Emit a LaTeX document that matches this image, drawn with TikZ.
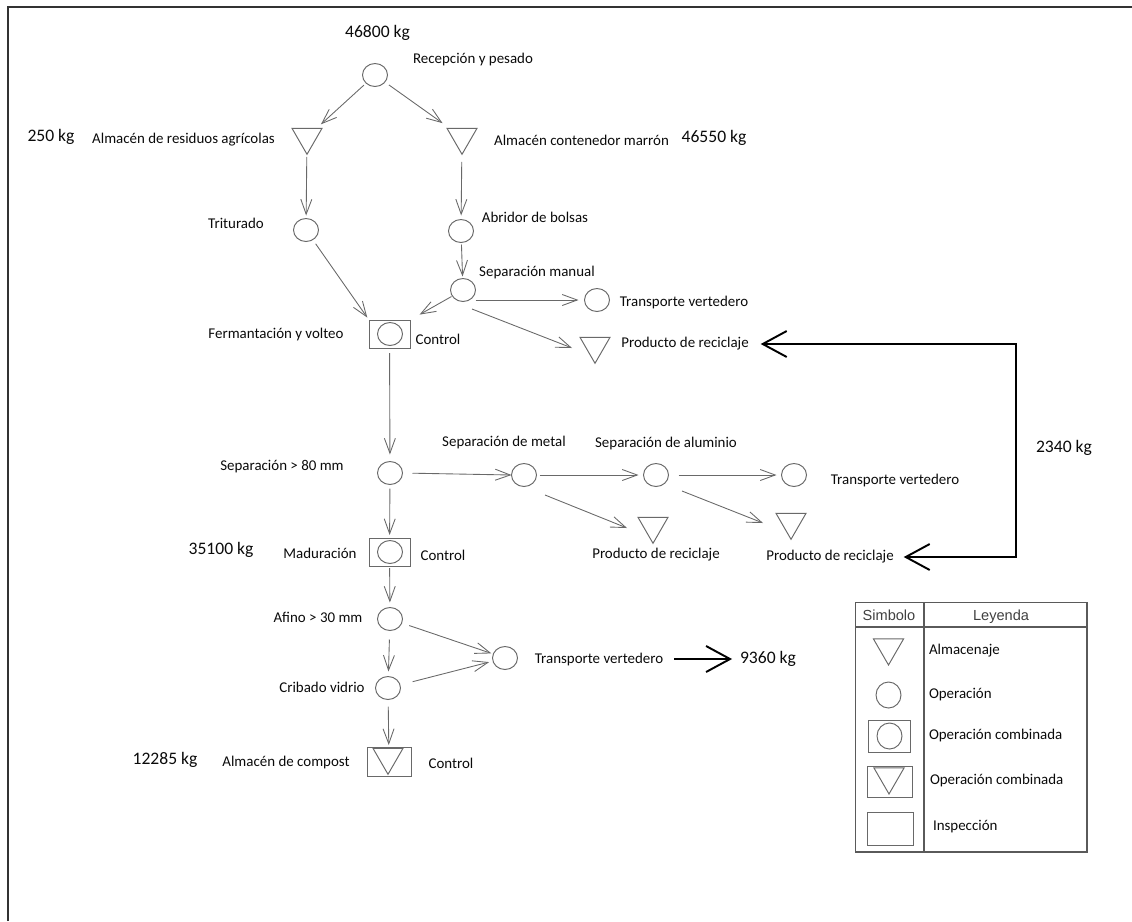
\documentclass[tikz,border=0pt]{standalone}
\usepackage{fontspec}
\setmainfont{Carlito}
\newfontfamily\hdrfont{Liberation Sans}
\usetikzlibrary{arrows.meta,shapes.geometric,calc}
\definecolor{ln}{RGB}{105,105,105}
\definecolor{txt}{RGB}{10,10,10}
\definecolor{lg}{RGB}{90,90,90}
\begin{document}
\begin{tikzpicture}[x=0.02cm,y=-0.02cm,
  every node/.style={inner sep=0pt, outer sep=0pt},
  lbl/.style={font=\fontsize{8.5}{10}\selectfont, text=txt},
  kg/.style={font=\fontsize{10}{12}\selectfont, text=txt},
  hdr/.style={font=\hdrfont\fontsize{8.3}{10}\selectfont, text=black!75},
  op/.style={ellipse, draw=ln, line width=0.55pt, minimum width=0.5cm, minimum height=0.46cm},
  store/.style={regular polygon, regular polygon sides=3, shape border rotate=180, draw=ln, line width=0.55pt, minimum size=0.692cm},
  combo/.style={rectangle, draw=ln, line width=0.55pt, minimum width=0.82cm, minimum height=0.56cm},
  flow/.style={draw=ln, line width=0.5pt, -{Straight Barb[length=0.3cm,width=0.22cm]}},
  big/.style={draw=black, line width=1.1pt},
  bigboth/.style={big, {Straight Barb[length=0.48cm,width=0.52cm]}-{Straight Barb[length=0.48cm,width=0.52cm]}},
  bigone/.style={big, -{Straight Barb[length=0.48cm,width=0.52cm]}},
]
\useasboundingbox (0,0) rectangle (1132,921);
% frame
\coordinate (fbl) at (8,921);
\coordinate (ftl) at (8,7);
\coordinate (ftr) at (1132,7);
\draw[black!80, line width=0.6pt] (fbl) -- (ftl) -- (ftr);

% operations
\node[op] (rec) at (375,75) {};
\node[store] (t1) at (307,137) {};
\node[store] (t2) at (462,137) {};
\node[op] (trit) at (306,230) {};
\node[op] (abr) at (461,231) {};
\node[op] (sman) at (463,290) {};
\node[op] (tv1) at (597,300) {};
\node[store] (prod0) at (595,346) {};
\node[combo] (ferm) at (389.5,334) {};
\node[op] (fermc) at (390,334) {};
\node[op] (sep80) at (390,473) {};
\node[op] (met) at (524,475) {};
\node[op] (alu) at (656,475) {};
\node[op] (tv2) at (794,475) {};
\node[store] (prod1) at (653,526) {};
\node[store] (prod2) at (791,522) {};
\node[combo] (mad) at (389.5,552) {};
\node[op] (madc) at (390,552) {};
\node[op] (afi) at (390,619) {};
\node[op] (cri) at (388,688) {};
\node[op] (tv3) at (505,658) {};
\node[combo, minimum width=0.88cm, minimum height=0.58cm] (comp) at (389,761.5) {};
\node[store] (compt) at (388,757) {};

% labels
\node[kg] (kg1) at (377.5,33) {46800 kg};
\node[lbl] (lrec) at (473,60) {Recepción y pesado};
\node[kg] (kg2) at (51,137) {250 kg};
\node[lbl] (lt1) at (183.5,140) {Almacén de residuos agrícolas};
\node[lbl] (lt2) at (581.5,140) {Almacén contenedor marrón};
\node[kg] (kg3) at (714,138) {46550 kg};
\node[lbl] (ltrit) at (236,223) {Triturado};
\node[lbl] (labr) at (535,217) {Abridor de bolsas};
\node[lbl] (lsman) at (537,273) {Separación manual};
\node[lbl] (ltv1) at (684,303) {Transporte vertedero};
\node[lbl] (lprod0) at (685,344) {Producto de reciclaje};
\node[lbl] (lferm) at (276,335) {Fermantación y volteo};
\node[lbl] (cferm) at (438,339) {Control};
\node[lbl] (lsep80) at (282,467) {Separación > 80 mm};
\node[lbl] (lmet) at (504,443) {Separación de metal};
\node[lbl] (lalu) at (666,444) {Separación de aluminio};
\node[lbl] (ltv2) at (895,481) {Transporte vertedero};
\node[lbl] (lprod1) at (656,555) {Producto de reciclaje};
\node[lbl] (lprod2) at (830,557) {Producto de reciclaje};
\node[kg] (kg4) at (1064,448) {2340 kg};
\node[kg] (kg5) at (221,550) {35100 kg};
\node[lbl] (lmad) at (320,553) {Maduración};
\node[lbl] (cmad) at (443,555) {Control};
\node[lbl] (lafi) at (318,617) {Afino > 30 mm};
\node[lbl] (lcri) at (322,687) {Cribado vidrio};
\node[lbl] (ltv3) at (599,659) {Transporte vertedero};
\node[kg] (kg6) at (768,659) {9360 kg};
\node[kg] (kg7) at (165,760) {12285 kg};
\node[lbl] (lcomp) at (286,762) {Almacén de compost};
\node[lbl] (ccomp) at (451,763) {Control};

% flows
\draw[flow, shorten <=0.06cm, shorten >=0.12cm] (rec) -- (t1);
\draw[flow, shorten <=0.1cm, shorten >=0.18cm] (rec) -- (t2);
\draw[flow, shorten <=0.06cm, shorten >=0.06cm] (t1) -- (trit);
\draw[flow, shorten <=0.16cm, shorten >=0.08cm] (t2) -- (abr);
\draw[flow, shorten <=0.1cm, shorten >=0.06cm] (trit) -- (ferm.north west);
\draw[flow, shorten <=0.04cm, shorten >=0.04cm] (abr) -- (sman);
\draw[flow, shorten <=0.02cm, shorten >=0.22cm] (sman) -- (ferm.north east);
\draw[flow, shorten >=0.12cm] (sman.east |- tv1.west) -- (tv1.west);
\draw[flow] ($(sman)+(9,19)$) -- ($(prod0.west)+(-13,2)$);
\draw[flow, shorten <=0.1cm, shorten >=0.14cm] (ferm) -- (sep80);
\draw[flow, shorten <=0.2cm] (sep80.east) -- (met.west);
\draw[flow, shorten <=0.06cm, shorten >=0.1cm] (met) -- (alu);
\draw[flow] ($(met)+(21,20)$) -- ($(prod1)+(-26,2)$);
\draw[flow, shorten <=0.2cm, shorten >=0.1cm] (alu) -- (tv2);
\draw[flow] ($(alu)+(26,16)$) -- ($(prod2)+(-28,1)$);
\draw[flow, shorten <=0.08cm, shorten >=0.06cm] (sep80) -- (mad);
\draw[flow, shorten <=0.04cm, shorten >=0.1cm] (mad) -- (afi);
\draw[flow, shorten <=0.18cm, shorten >=0.1cm] (afi) -- (cri);
\draw[flow, shorten <=0.16cm, shorten >=0.04cm] (afi) -- (tv3);
\draw[flow, shorten <=0.26cm, shorten >=0.08cm] (cri) -- (tv3);
\draw[flow, shorten <=0.14cm, shorten >=0.04cm] (cri) -- (comp);

% thick arrows
\coordinate (loopc) at (1016,450);
\draw[bigboth, shorten <=0.24cm, shorten >=0.2cm] (lprod0.east) -| (loopc) |- (lprod2.east);
\draw[bigone, shorten <=0.22cm, shorten >=0.16cm] (ltv3.east) -- (kg6.west);

% legend
\node[draw=lg, line width=0.6pt, minimum width=4.64cm, minimum height=5cm] (legend) at (971,727) {};
\coordinate (hl) at (855,627);
\coordinate (vl) at (924,602);
\draw[lg, line width=0.6pt] (hl) -- (hl -| legend.east);
\draw[lg, line width=0.6pt] (vl) -- (vl |- legend.south);
\node[hdr] (hsim) at (889,615) {Simbolo};
\node[hdr] (hley) at (1001,617) {Leyenda};
\node[store, minimum size=0.7cm] (ls1) at (888.5,647.5) {};
\node[op, minimum height=0.52cm] (ls2) at (888.5,695) {};
\node[combo, minimum width=0.84cm, minimum height=0.64cm] (ls3) at (889,736) {};
\node[op, minimum height=0.52cm] (ls3c) at (889.5,736) {};
\node[combo, minimum width=0.9cm, minimum height=0.62cm] (ls4) at (889.5,781.5) {};
\node[store, minimum size=0.7cm] (ls4t) at (889,776.5) {};
\node[combo, minimum width=0.92cm, minimum height=0.66cm] (ls5) at (890,828.5) {};
\node[lbl, anchor=west] (ll1) at (929,651) {Almacenaje};
\node[lbl, anchor=west] (ll2) at (929,695) {Operación};
\node[lbl, anchor=west] (ll3) at (929,735) {Operación combinada};
\node[lbl, anchor=west] (ll4) at (930,780) {Operación combinada};
\node[lbl, anchor=west] (ll5) at (933,827) {Inspección};
\end{tikzpicture}
\end{document}
